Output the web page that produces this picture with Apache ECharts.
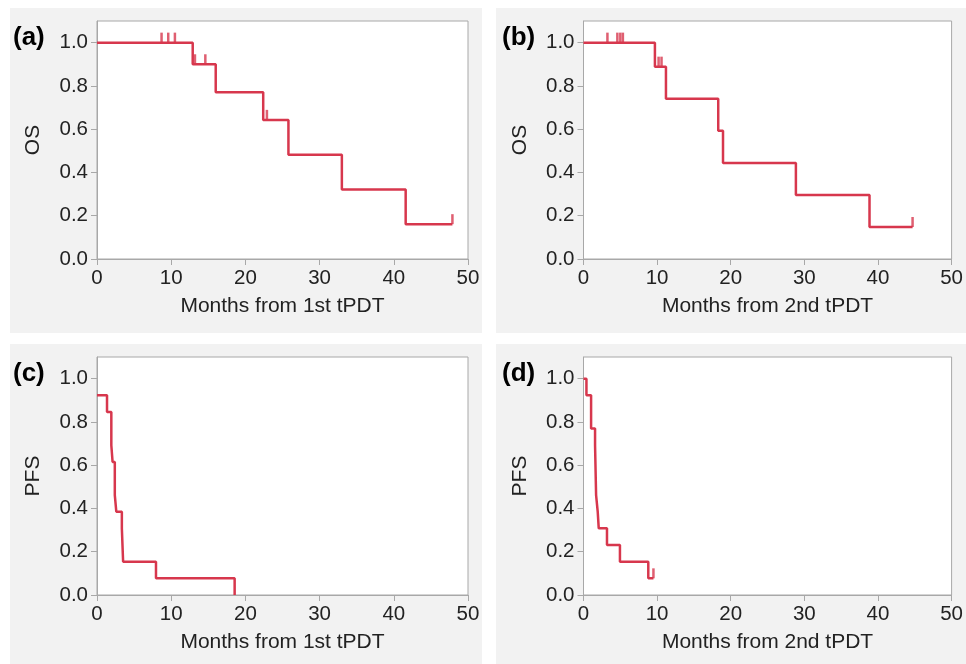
<!DOCTYPE html>
<html>
<head>
<meta charset="utf-8">
<script src="https://cdn.jsdelivr.net/npm/echarts@6/dist/echarts.min.js"></script>
<style>
  html, body { margin: 0; padding: 0; background: #ffffff; }
  #wrap { position: relative; width: 966px; height: 664px; }
  .panel { position: absolute; background: #f2f2f2; }
  #chart { position: absolute; left: 0; top: 0; width: 966px; height: 664px; }
</style>
</head>
<body>
<div id="wrap">
  <div class="panel" style="left:10px;top:8px;width:472px;height:325px;"></div>
  <div class="panel" style="left:496px;top:8px;width:470px;height:325px;"></div>
  <div class="panel" style="left:10px;top:344px;width:472px;height:320px;"></div>
  <div class="panel" style="left:496px;top:344px;width:470px;height:320px;"></div>
  <div id="chart"></div>
</div>
<script>
// ---------- data ----------
const xTicks = [0, 10, 20, 30, 40, 50];
const yTicks = [0, 0.2, 0.4, 0.6, 0.8, 1.0];

const panelLabels = ['(a)', '(b)', '(c)', '(d)'];
const yNames = ['OS', 'OS', 'PFS', 'PFS'];
const xNames = ['Months from 1st tPDT', 'Months from 2nd tPDT', 'Months from 1st tPDT', 'Months from 2nd tPDT'];

// (a) OS from 1st tPDT
const aTimes = [0, 12.9, 16.0, 22.4, 25.8, 33.0, 41.6, 47.9];
const aSurv  = [1.0, 0.9, 0.771, 0.643, 0.482, 0.321, 0.161, 0.161];
const aCensor = [8.7, 9.6, 10.5, 13.2, 14.6, 22.9, 47.9];

// (b) OS from 2nd tPDT
const bTimes = [0, 9.7, 11.2, 18.3, 18.95, 28.85, 38.85, 44.7];
const bSurv  = [1.0, 0.889, 0.741, 0.593, 0.444, 0.296, 0.148, 0.148];
const bCensor = [3.25, 4.6, 5.0, 5.35, 10.2, 10.6, 44.7];

// (c) PFS from 1st tPDT
const cTimes = [0, 1.35, 1.93, 2.1, 2.4, 2.6, 3.35, 3.52, 7.95, 18.55];
const cSurv  = [0.923, 0.846, 0.692, 0.615, 0.462, 0.385, 0.308, 0.154, 0.077, 0];
const cCensor = [];

// (d) PFS from 2nd tPDT
const dTimes = [0, 0.4, 1.03, 1.57, 1.71, 1.93, 2.07, 3.19, 4.95, 8.8, 9.5];
const dSurv  = [1.0, 0.923, 0.769, 0.692, 0.462, 0.385, 0.308, 0.231, 0.154, 0.077, 0.077];
const dCensor = [9.5];

// ---------- build ----------
const curves = [
  { t: aTimes, s: aSurv, c: aCensor },
  { t: bTimes, s: bSurv, c: bCensor },
  { t: cTimes, s: cSurv, c: cCensor },
  { t: dTimes, s: dSurv, c: dCensor }
];

const layout = [
  { left: 97, top: 21, lx: 13, ly: 39 },
  { left: 583.5, top: 21, lx: 502, ly: 39 },
  { left: 97, top: 357, lx: 13, ly: 375 },
  { left: 583.5, top: 357, lx: 502, ly: 375 }
];
const GW = 371, GH = 238;
const LINE = '#d7374d';
const AX = '#a8a8a8';
const TXT = '#222222';
const FONT = "'Liberation Sans', Arial, sans-serif";

function survAt(times, surv, x) {
  let v = surv[0];
  for (let i = 0; i < times.length; i++) { if (times[i] <= x) v = surv[i]; }
  return v;
}

const grid = [], xAxis = [], yAxis = [], series = [], graphic = [];
curves.forEach((cv, i) => {
  const L = layout[i];
  grid.push({ left: L.left, top: L.top, width: GW, height: GH, show: true,
    backgroundColor: '#ffffff', borderColor: AX, borderWidth: 1 });
  xAxis.push({
    gridIndex: i, type: 'value', min: xTicks[0], max: xTicks[xTicks.length - 1], interval: 10,
    name: xNames[i], nameLocation: 'middle', nameGap: 37,
    nameTextStyle: { fontSize: 21, color: TXT, fontFamily: FONT },
    axisLine: { show: true, lineStyle: { color: AX, width: 1 } },
    axisTick: { show: true, inside: false, length: 6, lineStyle: { color: AX } },
    axisLabel: { fontSize: 20.5, color: TXT, fontFamily: FONT, margin: 9,
      customValues: xTicks },
    splitLine: { show: false }
  });
  yAxis.push({
    gridIndex: i, type: 'value', min: 0, max: 1.1, interval: 0.2,
    name: yNames[i], nameLocation: 'middle', nameGap: 53, nameRotate: 90,
    nameTextStyle: { fontSize: 21, color: TXT, fontFamily: FONT },
    axisLine: { show: true, lineStyle: { color: AX, width: 1 } },
    axisTick: { show: true, inside: false, length: 6, lineStyle: { color: AX }, customValues: yTicks },
    axisLabel: { fontSize: 20.5, color: TXT, fontFamily: FONT, margin: 9,
      customValues: yTicks, formatter: v => Number(v).toFixed(1) },
    splitLine: { show: false }
  });
  series.push({
    type: 'line', xAxisIndex: i, yAxisIndex: i, step: 'end', showSymbol: false,
    symbol: 'none', animation: false,
    lineStyle: { color: LINE, width: 2.5 },
    data: cv.t.map((t, k) => [t, cv.s[k]])
  });
  if (cv.c.length) {
    series.push({
      type: 'scatter', xAxisIndex: i, yAxisIndex: i, animation: false,
      symbol: 'rect', symbolSize: [2.5, 10], symbolOffset: [0, -5],
      itemStyle: { color: LINE },
      data: cv.c.map(t => [t, survAt(cv.t, cv.s, t)])
    });
  }
  graphic.push({
    type: 'text', left: L.lx, top: L.ly - 14, z: 100,
    style: { text: panelLabels[i], fontSize: 26, fontWeight: 'bold', fill: '#000', fontFamily: FONT }
  });
});

const chart = echarts.init(document.getElementById('chart'), null, { renderer: 'canvas' });
chart.setOption({
  backgroundColor: 'transparent',
  animation: false,
  grid, xAxis, yAxis, series, graphic
});
</script>
</body>
</html>
